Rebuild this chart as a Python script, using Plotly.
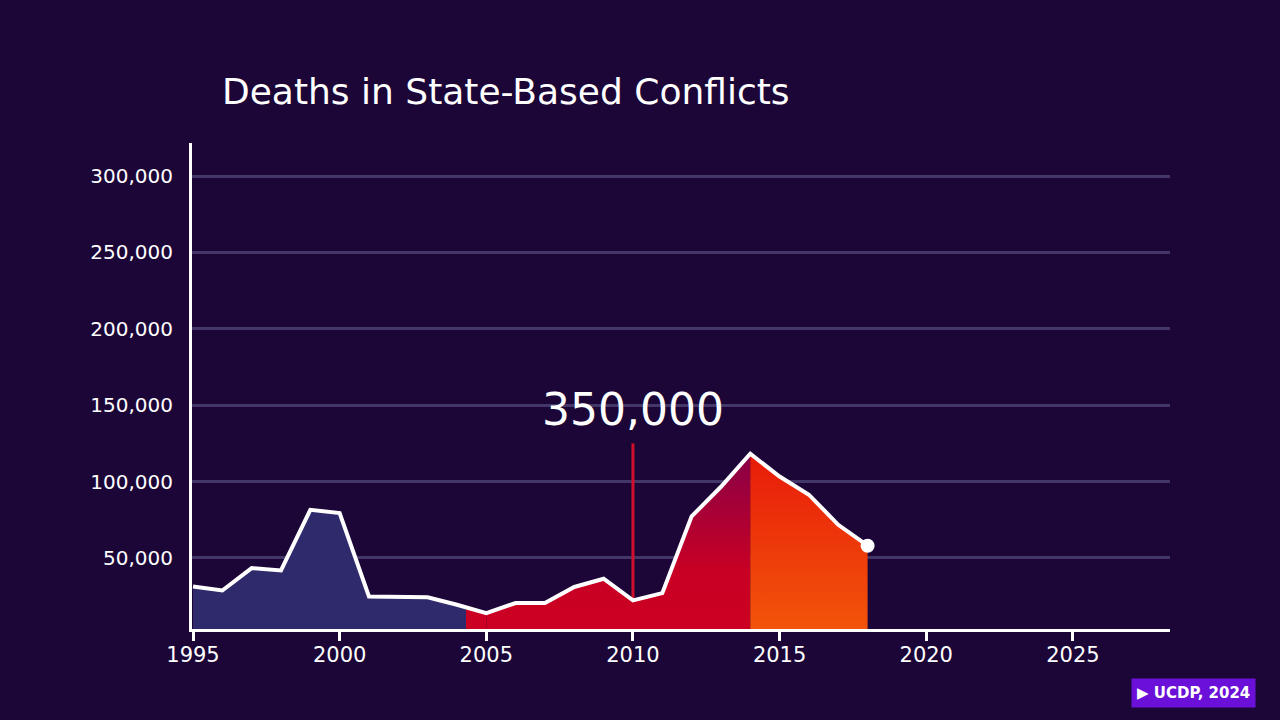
import plotly.graph_objects as go

# annual deaths in state-based conflicts
years = list(range(1995, 2019))
deaths = [31300, 28700, 43400, 41800, 81500, 79400, 24800, 24600, 24200, 19400,
          13900, 20500, 20500, 31000, 36400, 22200, 27000, 77200, 96600, 118200,
          103300, 91400, 71700, 58000]

y_ticks = [50000, 100000, 150000, 200000, 250000, 300000]
x_ticks = [1995, 2000, 2005, 2010, 2015, 2020, 2025]

callout_year = 2010
callout_text = "350,000"
callout_top = 125000
callout_label_y = 147000

title = "Deaths in State-Based Conflicts"
source = "▶ UCDP, 2024"

bg = "#1c0638"
slate = "#2f2a6b"
red = "#cc0022"
FONT = "DejaVu Sans"

i05 = years.index(2005)
i14 = years.index(2014)

fig = go.Figure()

# 1995-2005: slate, turning red just after 2004
fig.add_trace(go.Scatter(
    x=years[:i05 + 1], y=deaths[:i05 + 1], mode="none", fill="tozeroy",
    fillgradient=dict(type="horizontal", start=1995, stop=2005,
                      colorscale=[[0, slate], [0.93, slate], [0.931, red], [1, red]]),
    hoverinfo="skip"))

# 2005-2014: red, darker towards the top
fig.add_trace(go.Scatter(
    x=years[i05:i14 + 1], y=deaths[i05:i14 + 1], mode="none", fill="tozeroy",
    fillgradient=dict(type="vertical", start=0, stop=120000,
                      colorscale=[[0, red], [0.35, "#c80024"], [1, "#880048"]]),
    hoverinfo="skip"))

# 2014-2018: orange
fig.add_trace(go.Scatter(
    x=years[i14:], y=deaths[i14:], mode="none", fill="tozeroy",
    fillgradient=dict(type="vertical", start=0, stop=120000,
                      colorscale=[[0, "#f2560a"], [1, "#e81a0a"]]),
    hoverinfo="skip"))

# callout line
ci = years.index(callout_year)
fig.add_trace(go.Scatter(
    x=[callout_year, callout_year], y=[deaths[ci], callout_top], mode="lines",
    line=dict(color="#d0102a", width=3), hoverinfo="skip"))

# the white line and end dot
fig.add_trace(go.Scatter(
    x=years, y=deaths, mode="lines", line=dict(color="white", width=4),
    hoverinfo="skip"))
fig.add_trace(go.Scatter(
    x=[years[-1]], y=[deaths[-1]], mode="markers",
    marker=dict(color="white", size=14), hoverinfo="skip", cliponaxis=False))

fig.add_annotation(x=callout_year, y=callout_label_y, text=callout_text,
                   showarrow=False, xanchor="center", yanchor="middle",
                   font=dict(family=FONT, size=44, color="white"))

fig.add_annotation(xref="paper", yref="paper", x=1.0245, y=-0.1327,
                   text="<b>" + source + "</b>", showarrow=False,
                   xanchor="center", yanchor="middle", bgcolor="#6a10d8",
                   borderpad=5, font=dict(family=FONT, size=15, color="white"))

fig.update_layout(
    width=1280, height=720,
    paper_bgcolor=bg, plot_bgcolor=bg,
    margin=dict(l=192, r=110, t=143, b=91),
    showlegend=False,
    font=dict(family=FONT, color="white"),
    title=dict(text=title, x=222 / 1280, xanchor="left", xref="container",
               y=1 - 91 / 720, yanchor="middle",
               font=dict(family=FONT, size=36, color="white")),
    xaxis=dict(range=[1994.966, 2028.31], tickvals=x_ticks, showgrid=False,
               zeroline=False, showline=True, linecolor="white", linewidth=3,
               ticks="outside", ticklen=9, tickwidth=3, tickcolor="white",
               ticklabelstandoff=-4,
               tickfont=dict(size=21, color="white")),
    yaxis=dict(range=[3500, 321600], tickvals=y_ticks, tickformat=",",
               showgrid=True, gridcolor="#433668", gridwidth=3,
               zeroline=False, showline=True, linecolor="white", linewidth=3,
               ticks="", ticklabelstandoff=12,
               tickfont=dict(size=20, color="white")),
)

fig.write_html("out.html", config={"displayModeBar": False},
               post_script="document.body.style.margin='0';"
                           "document.body.style.background='#1c0638';")
